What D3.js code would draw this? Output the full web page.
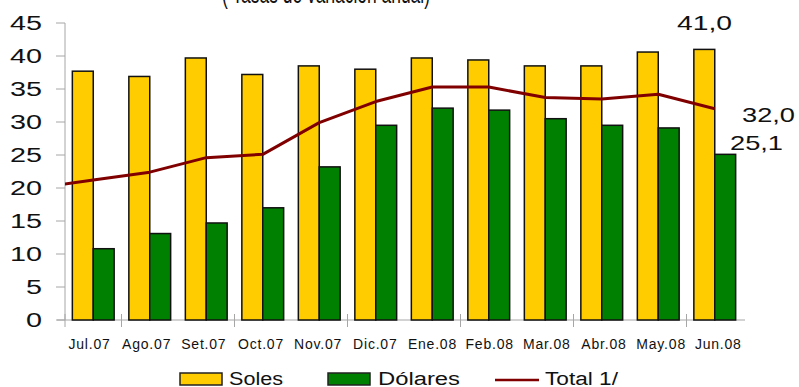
<!DOCTYPE html>
<html>
<head>
<meta charset="utf-8">
<script src="https://cdn.jsdelivr.net/npm/d3@7"></script>
<style>
  body { margin: 0; background: #fff; }
  svg { display: block; font-family: "Liberation Sans", Arial, sans-serif; }
</style>
</head>
<body>
<div id="chart"></div>
<script>
  // data
  const months = ["Jul.07", "Ago.07", "Set.07", "Oct.07", "Nov.07", "Dic.07",
                  "Ene.08", "Feb.08", "Mar.08", "Abr.08", "May.08", "Jun.08"];
  const soles   = [37.7, 36.9, 39.7, 37.2, 38.5, 38.0, 39.7, 39.4, 38.5, 38.5, 40.6, 41.0];
  const dolares = [10.8, 13.1, 14.7, 17.0, 23.2, 29.5, 32.1, 31.8, 30.5, 29.5, 29.1, 25.1];
  const total   = [21.2, 22.4, 24.6, 25.1, 29.9, 33.1, 35.3, 35.3, 33.7, 33.5, 34.2, 32.0];
  const totalPrev = 20.0;   // Jun.07, only its segment shows at the left edge
  const yTicks = [0, 5, 10, 15, 20, 25, 30, 35, 40, 45];
  const xTickAt = ["Jul.07", "Ago.07", "Oct.07", "Dic.07", "Feb.08", "Abr.08", "Jun.08"];
  const endLabels = [
    { text: "41,0", v: 41.0 },
    { text: "32,0", v: 32.0 },
    { text: "25,1", v: 25.1 }
  ];
  const title = "( Tasas de variación anual)";

  function get_plot_spec() {
    const left = 65, right = 743, top = 23, bottom = 320;
    const x_scale = d3.scaleBand().domain(months).range([left, right]);
    const bw = x_scale.bandwidth();
    const x_inner = d3.scaleBand().domain(["soles", "dolares"]).range([bw * 0.13, bw * 0.87]);
    const y_scale = d3.scaleLinear().domain([0, 45]).range([bottom, top]);
    // the month labels sit on a slightly different spacing than the bars
    const label_scale = d3.scalePoint().domain(months).range([89.5, 718.3]);
    return { left, right, top, bottom, x_scale, x_inner, y_scale, label_scale };
  }

  function draw() {
    const spec = get_plot_spec();
    const x = spec.x_scale, x1 = spec.x_inner, y = spec.y_scale;

    const svg = d3.select("#chart").append("svg")
      .attr("width", 799)
      .attr("height", 387);

    // title, cut off at the top of the picture
    svg.append("text")
      .attr("x", 222).attr("y", 3)
      .attr("font-size", 28)
      .attr("textLength", 208)
      .attr("lengthAdjust", "spacingAndGlyphs")
      .attr("fill", "#111")
      .text(title);

    // Y axis
    const axisColor = "#a6a6a6";
    svg.append("line")
      .attr("x1", spec.left).attr("x2", spec.left)
      .attr("y1", y(45)).attr("y2", y(0))
      .attr("stroke", axisColor);
    const yg = svg.append("g");
    yg.selectAll("line").data(yTicks).join("line")
      .attr("x1", spec.left - 9).attr("x2", spec.left)
      .attr("y1", d => y(d)).attr("y2", d => y(d))
      .attr("stroke", axisColor);
    yg.selectAll("text").data(yTicks).join("text")
      .attr("x", 42).attr("y", d => y(d))
      .attr("dy", "0.36em")
      .attr("text-anchor", "end")
      .attr("font-size", 20)
      .attr("textLength", d => String(d).length * 16)
      .attr("lengthAdjust", "spacingAndGlyphs")
      .attr("fill", "#111")
      .text(d => d);

    // X axis
    svg.append("line")
      .attr("x1", spec.left - 8).attr("x2", spec.right + 2)
      .attr("y1", y(0)).attr("y2", y(0))
      .attr("stroke", axisColor);
    svg.append("g").selectAll("line").data(xTickAt).join("line")
      .attr("x1", d => x(d)).attr("x2", d => x(d))
      .attr("y1", y(0) - 6).attr("y2", y(0) + 7)
      .attr("stroke", axisColor);
    svg.append("g").selectAll("text").data(months).join("text")
      .attr("x", d => spec.label_scale(d))
      .attr("y", 349)
      .attr("text-anchor", "middle")
      .attr("font-size", 14)
      .attr("letter-spacing", 0.8)
      .attr("fill", "#111")
      .text(d => d);

    // bars
    const rows = months.map((m, i) => ({ m: m, soles: soles[i], dolares: dolares[i] }));
    const colors = { soles: "#ffcc00", dolares: "#008000" };
    svg.append("g").selectAll("g").data(rows).join("g")
      .attr("transform", d => `translate(${x(d.m)},0)`)
      .selectAll("rect")
      .data(d => ["soles", "dolares"].map(k => ({ k: k, v: d[k] })))
      .join("rect")
      .attr("x", d => x1(d.k))
      .attr("width", x1.bandwidth())
      .attr("y", d => y(d.v))
      .attr("height", d => y(0) - y(d.v))
      .attr("fill", d => colors[d.k])
      .attr("stroke", "#111")
      .attr("stroke-width", 1.5);

    // total line, clipped to the plot area
    svg.append("clipPath").attr("id", "plotclip")
      .append("rect")
      .attr("x", spec.left).attr("y", 0)
      .attr("width", spec.right - spec.left + 10).attr("height", 387);
    const half = x.bandwidth() / 2;
    const pts = [[x(months[0]) - half, y(totalPrev)]]
      .concat(months.map((m, i) => [x(m) + half, y(total[i])]));
    svg.append("path")
      .attr("clip-path", "url(#plotclip)")
      .attr("d", d3.line()(pts))
      .attr("fill", "none")
      .attr("stroke", "#800000")
      .attr("stroke-width", 3)
      .attr("stroke-linejoin", "round");

    // end value labels (offsets from the last month's band)
    const last = months[months.length - 1];
    const labelPos = [
      { dx: 18, dy: -19, w: 55 },
      { dx: 82, dy: 13, w: 53 },
      { dx: 70, dy: -4, w: 53 }
    ];
    svg.append("g").selectAll("text").data(endLabels).join("text")
      .attr("x", (d, i) => x(last) + labelPos[i].dx)
      .attr("y", (d, i) => y(d.v) + labelPos[i].dy)
      .attr("font-size", 21)
      .attr("textLength", (d, i) => labelPos[i].w)
      .attr("lengthAdjust", "spacingAndGlyphs")
      .attr("text-anchor", "middle")
      .attr("fill", "#111")
      .text(d => d.text);

    // legend
    const lg = svg.append("g");
    const legendItems = [
      { name: "Soles", type: "rect", color: colors.soles, x: 180, tx: 229, w: 54 },
      { name: "Dólares", type: "rect", color: colors.dolares, x: 328, tx: 378, w: 82 },
      { name: "Total 1/", type: "line", color: "#800000", x: 495, tx: 545, w: 73 }
    ];
    legendItems.forEach(d => {
      if (d.type === "rect") {
        lg.append("rect")
          .attr("x", d.x).attr("y", 373)
          .attr("width", 42).attr("height", 12)
          .attr("fill", d.color)
          .attr("stroke", "#222").attr("stroke-width", 1.5);
      } else {
        lg.append("line")
          .attr("x1", d.x).attr("x2", d.x + 44)
          .attr("y1", 380).attr("y2", 380)
          .attr("stroke", d.color).attr("stroke-width", 2.5);
      }
      lg.append("text")
        .attr("x", d.tx).attr("y", 385)
        .attr("font-size", 18)
        .attr("textLength", d.w)
        .attr("lengthAdjust", "spacingAndGlyphs")
        .attr("fill", "#111")
        .text(d.name);
    });
  }

  draw();
</script>
</body>
</html>
